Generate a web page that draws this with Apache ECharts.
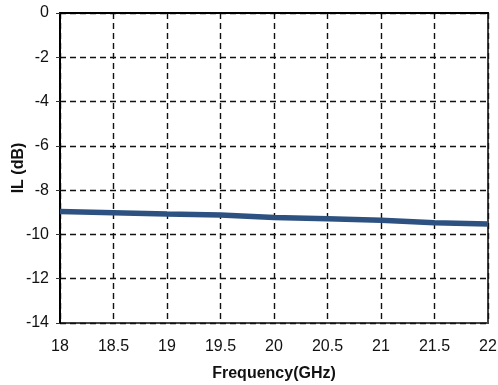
<!DOCTYPE html>
<html><head><meta charset="utf-8">
<script src="https://cdn.jsdelivr.net/npm/echarts@6/dist/echarts.min.js"></script>
<style>html,body{margin:0;padding:0;background:#fff}#c{width:498px;height:385px}</style>
</head><body><div id="c"></div>
<script>
const freq = [18, 18.5, 19, 19.5, 20, 20.5, 21, 21.5, 22];
const il = [-8.97, -9.02, -9.08, -9.12, -9.23, -9.29, -9.36, -9.47, -9.53];
const yTicks = [0, -2, -4, -6, -8, -10, -12, -14];

const chart = echarts.init(document.getElementById('c'), null, {renderer:'canvas'});
chart.setOption({
  animation: false,
  backgroundColor: '#fff',
  grid: {left: 60, right: 10, top: 13, bottom: 62, containLabel: false, outerBoundsMode: 'none',
    show: true, borderColor: '#444', borderWidth: 2, backgroundColor: 'transparent'},
  xAxis: {
    type: 'value', min: 18, max: 22, interval: 0.5,
    name: 'Frequency(GHz)', nameLocation: 'middle', nameGap: 43, nameMoveOverlap: false,
    nameTextStyle: {fontFamily: 'Liberation Sans', fontWeight: 'bold', fontSize: 16, color: '#111'},
    axisLine: {show: true, lineStyle: {color: '#000', width: 2}},
    axisTick: {show: false},
    axisLabel: {fontFamily: 'Liberation Sans', fontSize: 16, color: '#111', margin: 16,
      formatter: v => String(v)},
    splitLine: {show: true, lineStyle: {color: '#111', type: [6, 4], width: 1.4}}
  },
  yAxis: {
    type: 'value', min: -14, max: 0, interval: 2,
    name: 'IL (dB)', nameLocation: 'middle', nameGap: 33, nameMoveOverlap: false,
    nameTextStyle: {fontFamily: 'Liberation Sans', fontWeight: 'bold', fontSize: 16, color: '#111'},
    axisLine: {show: true, lineStyle: {color: '#000', width: 2}},
    axisTick: {show: true, length: 4, lineStyle: {color: '#333', width: 1}},
    axisLabel: {fontFamily: 'Liberation Sans', fontSize: 16, color: '#111', margin: 11,
      formatter: v => yTicks.includes(v) ? String(v) : ''},
    splitLine: {show: true, lineStyle: {color: '#111', type: [6, 4], width: 1.4}}
  },
  series: [{
    type: 'line', data: freq.map((f, i) => [f, il[i]]),
    showSymbol: false, symbol: 'none',
    lineStyle: {color: '#2d5282', width: 5.5},
    z: 5
  }]
});
</script></body></html>
